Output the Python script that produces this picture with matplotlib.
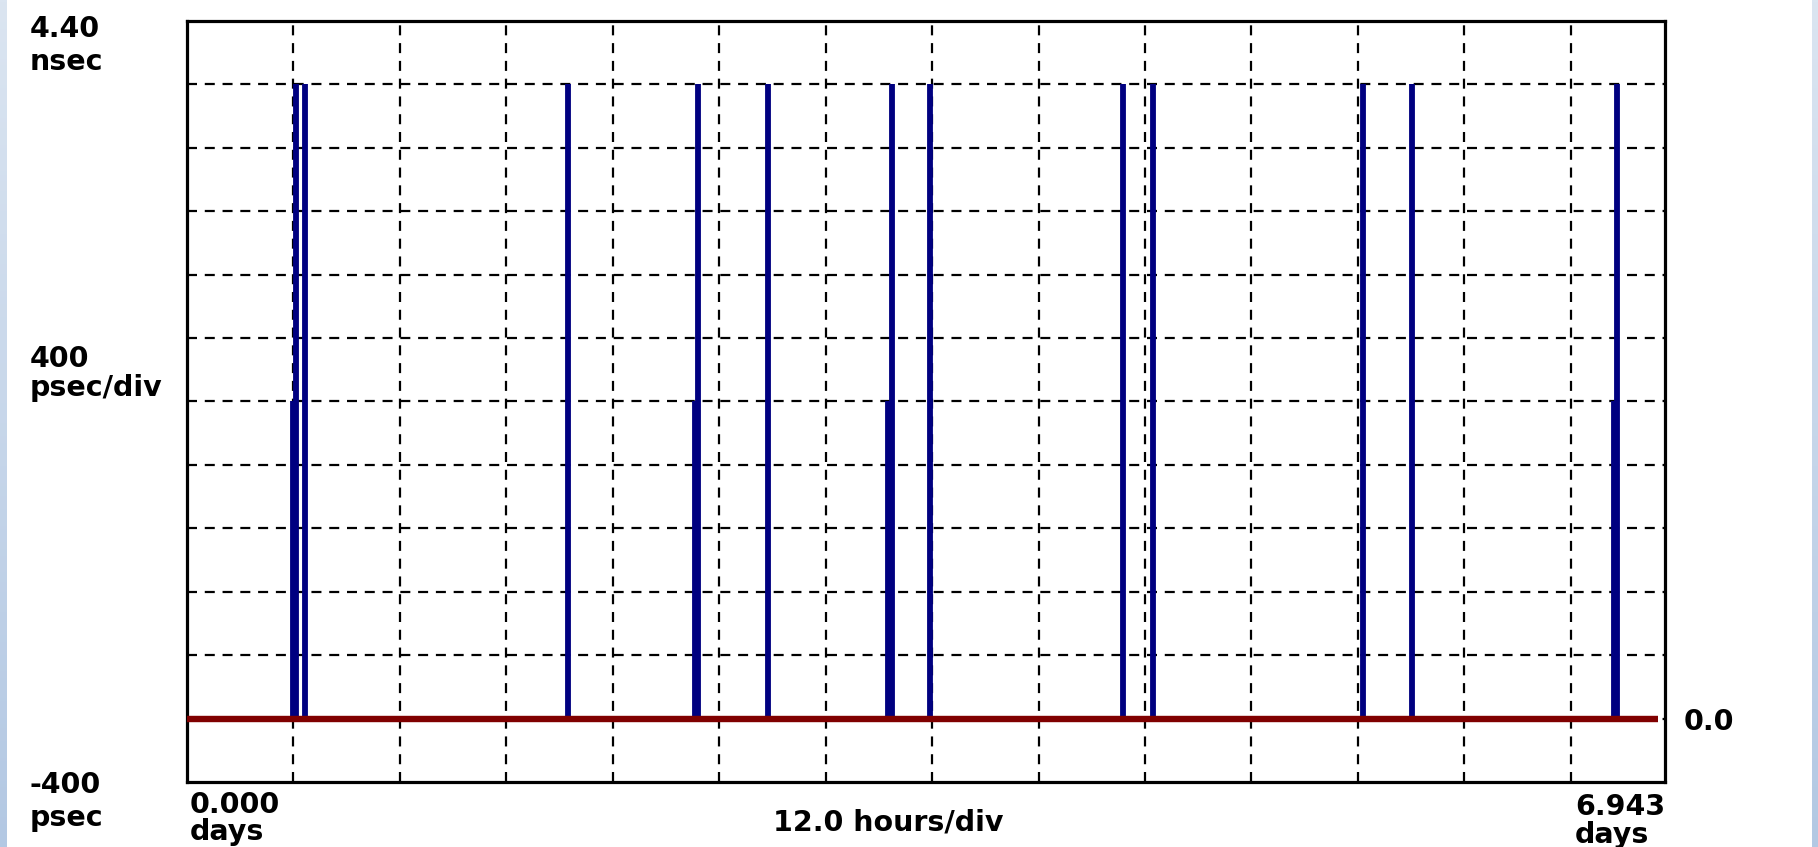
import numpy as np
import matplotlib
matplotlib.use("Agg")
from matplotlib import pyplot as plt

# spike events: time (days) and height (nsec)
spike_days = [0.498, 0.512, 0.554, 1.790, 2.386, 2.400, 2.727, 3.293, 3.312,
              3.490, 4.399, 4.536, 5.524, 5.755, 6.703, 6.718]
spike_ns = [2.0, 4.0, 4.0, 4.0, 2.0, 4.0, 4.0, 2.0, 4.0,
            4.0, 4.0, 4.0, 4.0, 4.0, 2.0, 4.0]

# flat trace at zero
trace_days = [0.0, 6.91]
trace_ns = [0.0, 0.0]

x_max = 6.943
y_min, y_max = -0.4, 4.4
x_grid = np.arange(0.5, 6.9, 0.5)
y_grid = np.arange(0.0, 4.2, 0.4)

W, H = 1818, 847
fig = plt.figure(figsize=(W / 100, H / 100), dpi=100)
fig.patch.set_facecolor("white")

# blue gradient strips at the edges
grad = np.linspace(0, 1, 256).reshape(-1, 1)
cm = matplotlib.colors.LinearSegmentedColormap.from_list("edge", ["#dbe5f1", "#b3c8e3"])
for left in (0, 1812 / W):
    sax = fig.add_axes([left, 0, 7 / W, 1])
    sax.imshow(grad[::-1], aspect="auto", cmap=cm, extent=[0, 1, 0, 1], origin="lower")
    sax.axis("off")

ax = fig.add_axes([187 / W, (H - 782) / H, 1478 / W, 761 / H])
ax.set_xlim(0, x_max)
ax.set_ylim(y_min, y_max)

for gx in x_grid:
    ax.axvline(gx, color="black", lw=1.6, ls=(0, (4.5, 3.5)), zorder=1)
for gy in y_grid:
    ax.axhline(gy, color="black", lw=1.6, ls=(0, (4.5, 3.5)), zorder=1)

ax.vlines(spike_days, 0, spike_ns, color="#000080", lw=4.2, zorder=2)
ax.plot(trace_days, trace_ns, color="#800000", lw=4.6, solid_capstyle="butt", zorder=3)

ax.set_xticks([])
ax.set_yticks([])
for s in ax.spines.values():
    s.set_linewidth(2.3)
    s.set_color("black")

fs = 20.5
tk = dict(fontsize=fs, fontweight="heavy", family="DejaVu Sans", color="black")


def put(x, y, s, ha="left"):
    fig.text(x / W, 1 - y / H, s, ha=ha, va="baseline", **tk)


put(30, 37, "4.40")
put(30, 70, "nsec")
put(30, 367, "400")
put(30, 396, "psec/div")
put(30, 793, "-400")
put(30, 826, "psec")
put(190, 813, "0.000")
put(190, 840, "days")
put(888, 830, "12.0 hours/div", ha="center")
put(1684, 730, "0.0")
put(1665, 815, "6.943", ha="right")
put(1575, 843, "days")

fig.savefig("out.png", dpi=100)
